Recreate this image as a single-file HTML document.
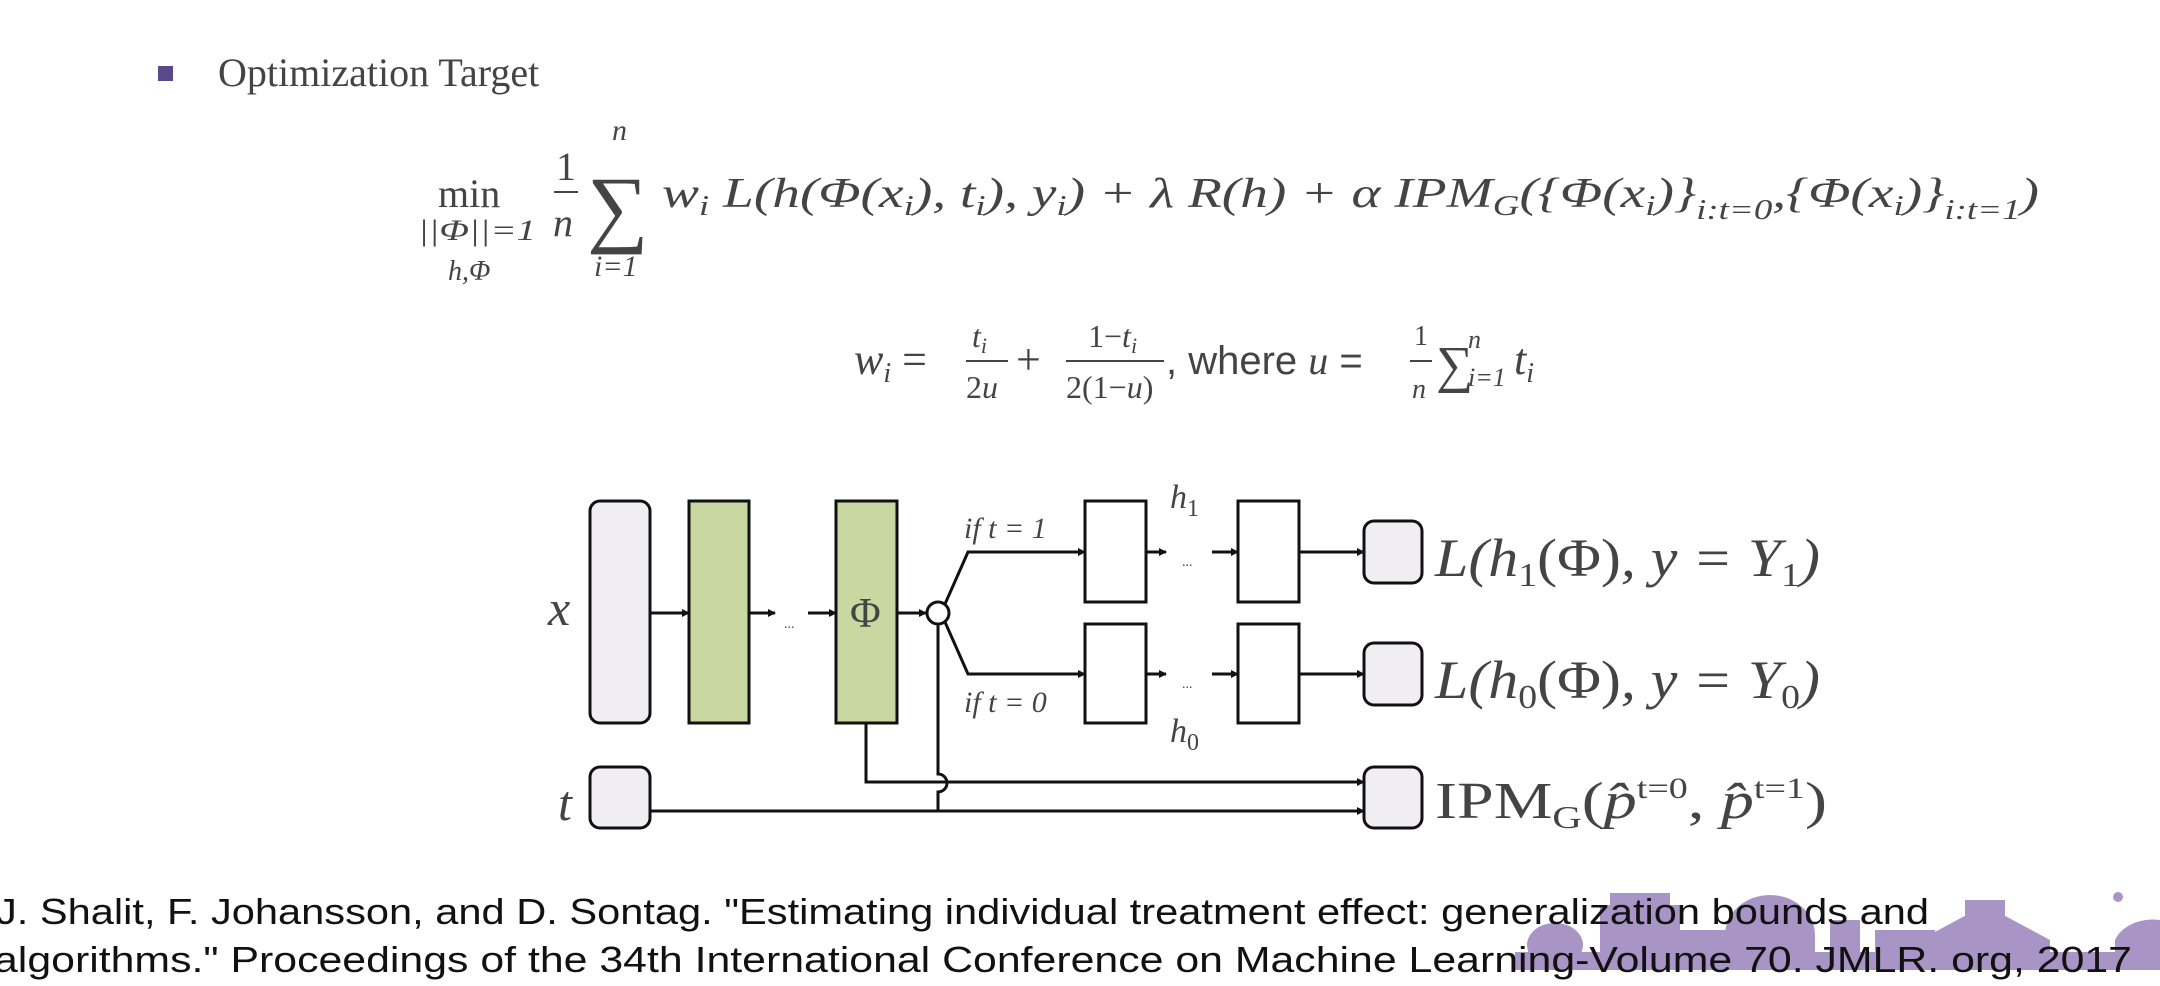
<!DOCTYPE html>
<html><head><meta charset="utf-8"><style>
html,body{margin:0;padding:0;background:#fff;width:2160px;height:986px;overflow:hidden}
svg{display:block}
.m{font-family:"Liberation Serif",serif;font-style:italic;fill:#444}
.r{font-family:"Liberation Serif",serif;fill:#444}
.s{font-family:"Liberation Sans",sans-serif}
</style></head><body>
<svg width="2160" height="986" viewBox="0 0 2160 986">
<defs><marker id="ar" markerWidth="8" markerHeight="8" refX="7" refY="4" orient="auto" markerUnits="userSpaceOnUse"><path d="M0,0 L8,4 L0,8 z" fill="#111"/></marker></defs>
<rect x="158" y="66" width="15" height="15" fill="#5b4a8a"/>
<text x="218" y="86" class="r" font-size="40" fill="#555">Optimization Target</text>

<g>
<text x="438" y="207" class="r" font-size="40">min</text>
<text x="418" y="240" class="m" font-size="30" textLength="118" lengthAdjust="spacingAndGlyphs">||Φ||=1</text>
<text x="448" y="280" class="m" font-size="28">h,Φ</text>
<text x="556" y="180" class="r" font-size="40">1</text>
<line x1="554" y1="192" x2="578" y2="192" stroke="#444" stroke-width="2"/>
<text x="553" y="236" class="m" font-size="40">n</text>
<text x="587" y="236" class="r" font-size="86">∑</text>
<text x="612" y="140" class="m" font-size="30">n</text>
<text x="594" y="276" class="m" font-size="30">i=1</text>
<text x="662" y="207" class="m" font-size="42" textLength="1377" lengthAdjust="spacingAndGlyphs">w<tspan font-size="28" dy="8">i</tspan><tspan dy="-8"> L(h(Φ(x</tspan><tspan font-size="28" dy="8">i</tspan><tspan dy="-8">), t</tspan><tspan font-size="28" dy="8">i</tspan><tspan dy="-8">), y</tspan><tspan font-size="28" dy="8">i</tspan><tspan dy="-8">) + λ R(h) + α IPM</tspan><tspan font-size="28" dy="8">G</tspan><tspan dy="-8">({Φ(x</tspan><tspan font-size="28" dy="8">i</tspan><tspan dy="-8">)}</tspan><tspan font-size="28" dy="12">i:t=0</tspan><tspan dy="-12">,{Φ(x</tspan><tspan font-size="28" dy="8">i</tspan><tspan dy="-8">)}</tspan><tspan font-size="28" dy="12">i:t=1</tspan><tspan dy="-12">)</tspan></text>
</g>

<g>
<text x="854" y="374" class="m" font-size="44">w<tspan font-size="28" dy="8">i</tspan><tspan dy="-8" class="r" font-style="normal"> =</tspan></text>
<text x="972" y="347" class="m" font-size="32">t<tspan font-size="22" dy="6">i</tspan></text>
<line x1="966" y1="361" x2="1008" y2="361" stroke="#444" stroke-width="2"/>
<text x="966" y="398" class="r" font-size="32">2<tspan font-style="italic">u</tspan></text>
<text x="1016" y="374" class="r" font-size="44">+</text>
<text x="1088" y="347" class="r" font-size="32">1−<tspan font-style="italic">t</tspan><tspan font-size="22" dy="6" font-style="italic">i</tspan></text>
<line x1="1066" y1="361" x2="1164" y2="361" stroke="#444" stroke-width="2"/>
<text x="1066" y="398" class="r" font-size="32">2(1−<tspan font-style="italic">u</tspan>)</text>
<text x="1166" y="374" class="s" font-size="40" fill="#444">, where <tspan font-family="Liberation Serif" font-style="italic">u</tspan> =</text>
<text x="1414" y="345" class="r" font-size="28">1</text>
<line x1="1410" y1="361" x2="1432" y2="361" stroke="#444" stroke-width="2"/>
<text x="1412" y="398" class="m" font-size="28">n</text>
<text x="1436" y="382" class="r" font-size="52">∑</text>
<text x="1468" y="348" class="m" font-size="26">n</text>
<text x="1468" y="386" class="m" font-size="26">i=1</text>
<text x="1514" y="374" class="m" font-size="44">t<tspan font-size="28" dy="8">i</tspan></text>
</g>

<g stroke="#111" stroke-width="3">
<text x="548" y="625" class="m" font-size="50" stroke="none" fill="#222">x</text>
<rect x="590" y="501" width="60" height="222" rx="10" fill="#f0eef3"/>
<rect x="689" y="501" width="60" height="222" fill="#c8d8a0"/>
<rect x="836" y="501" width="61" height="222" fill="#c8d8a0"/>
<text x="850" y="627" class="r" font-size="42" stroke="none" fill="#222">Φ</text>
<line x1="650" y1="613" x2="689" y2="613" marker-end="url(#ar)"/>
<line x1="749" y1="613" x2="775" y2="613" marker-end="url(#ar)"/>
<text x="784" y="628" class="r" font-size="14" stroke="none" fill="#444">...</text>
<line x1="808" y1="613" x2="836" y2="613" marker-end="url(#ar)"/>
<line x1="897" y1="613" x2="926" y2="613" marker-end="url(#ar)"/>
<circle cx="938" cy="613" r="11" fill="#fff"/>
<polyline points="945,604 968,552 1085,552" fill="none" marker-end="url(#ar)"/>
<polyline points="945,622 968,674 1085,674" fill="none" marker-end="url(#ar)"/>
<text x="964" y="538" class="m" font-size="30" stroke="none" fill="#333">if t = 1</text>
<text x="964" y="712" class="m" font-size="30" stroke="none" fill="#333">if t = 0</text>
<rect x="1085" y="501" width="61" height="101" fill="#fff"/>
<rect x="1238" y="501" width="61" height="101" fill="#fff"/>
<rect x="1085" y="624" width="61" height="99" fill="#fff"/>
<rect x="1238" y="624" width="61" height="99" fill="#fff"/>
<line x1="1146" y1="552" x2="1166" y2="552" marker-end="url(#ar)"/>
<line x1="1212" y1="552" x2="1238" y2="552" marker-end="url(#ar)"/>
<line x1="1146" y1="674" x2="1166" y2="674" marker-end="url(#ar)"/>
<line x1="1212" y1="674" x2="1238" y2="674" marker-end="url(#ar)"/>
<text x="1182" y="566" class="r" font-size="14" stroke="none" fill="#444">...</text>
<text x="1182" y="688" class="r" font-size="14" stroke="none" fill="#444">...</text>
<text x="1170" y="508" class="m" font-size="34" stroke="none" fill="#333">h<tspan font-size="24" dy="8" font-style="normal">1</tspan></text>
<text x="1170" y="742" class="m" font-size="34" stroke="none" fill="#333">h<tspan font-size="24" dy="8" font-style="normal">0</tspan></text>
<line x1="1299" y1="552" x2="1364" y2="552" marker-end="url(#ar)"/>
<line x1="1299" y1="674" x2="1364" y2="674" marker-end="url(#ar)"/>
<rect x="1364" y="521" width="58" height="62" rx="10" fill="#f0eef3"/>
<rect x="1364" y="643" width="58" height="62" rx="10" fill="#f0eef3"/>
<rect x="1364" y="767" width="58" height="61" rx="10" fill="#f0eef3"/>
<text x="558" y="820" class="m" font-size="50" stroke="none" fill="#222">t</text>
<rect x="590" y="767" width="60" height="61" rx="10" fill="#f0eef3"/>
<polyline points="866,723 866,782 1364,782" fill="none" marker-end="url(#ar)"/>
<line x1="650" y1="811" x2="1364" y2="811" marker-end="url(#ar)"/>
<path d="M938,811 L938,792 A8,8 0 0 0 938,774 L938,624" fill="none"/>
<text x="1435" y="576" class="m" font-size="54" stroke="none" fill="#222" textLength="385" lengthAdjust="spacingAndGlyphs">L(h<tspan font-size="34" dy="10" font-style="normal">1</tspan><tspan dy="-10" font-style="normal">(Φ)</tspan>, y = Y<tspan font-size="34" dy="10" font-style="normal">1</tspan><tspan dy="-10">)</tspan></text>
<text x="1435" y="698" class="m" font-size="54" stroke="none" fill="#222" textLength="385" lengthAdjust="spacingAndGlyphs">L(h<tspan font-size="34" dy="10" font-style="normal">0</tspan><tspan dy="-10" font-style="normal">(Φ)</tspan>, y = Y<tspan font-size="34" dy="10" font-style="normal">0</tspan><tspan dy="-10">)</tspan></text>
<text x="1435" y="818" class="r" font-size="52" stroke="none" fill="#222" textLength="392" lengthAdjust="spacingAndGlyphs">IPM<tspan font-size="32" dy="10">G</tspan><tspan dy="-10">(</tspan><tspan font-style="italic">p̂</tspan><tspan font-size="30" dy="-20">t=0</tspan><tspan dy="20">, </tspan><tspan font-style="italic">p̂</tspan><tspan font-size="30" dy="-20">t=1</tspan><tspan dy="20">)</tspan></text>
</g>

<g fill="#8c72b4" opacity="0.75">
<rect x="1515" y="952" width="645" height="18"/>
<ellipse cx="1555" cy="945" rx="28" ry="22"/>
<rect x="1600" y="905" width="80" height="55"/>
<rect x="1610" y="893" width="60" height="14"/>
<rect x="1680" y="930" width="50" height="30"/>
<path d="M1725,935 A45,40 0 0 1 1815,935 L1815,960 L1725,960 Z"/>
<rect x="1740" y="920" width="50" height="40"/>
<rect x="1830" y="920" width="30" height="40"/>
<rect x="1875" y="930" width="60" height="30"/>
<path d="M1920,940 L1985,905 L2050,940 L2050,965 L1920,965 Z"/>
<rect x="1965" y="900" width="40" height="30"/>
<circle cx="2118" cy="897" r="5"/>
<path d="M2115,940 A40,30 0 0 1 2160,920 L2160,965 L2115,965 Z"/>
</g>

<g>
<text x="-4" y="924" class="s" font-size="36" fill="#111" textLength="1933" lengthAdjust="spacingAndGlyphs">J. Shalit, F. Johansson, and D. Sontag. "Estimating individual treatment effect: generalization bounds and</text>
<text x="-6" y="972" class="s" font-size="36" fill="#111" textLength="2138" lengthAdjust="spacingAndGlyphs">algorithms." Proceedings of the 34th International Conference on Machine Learning-Volume 70. JMLR. org, 2017</text>
</g>
</svg>
</body></html>
